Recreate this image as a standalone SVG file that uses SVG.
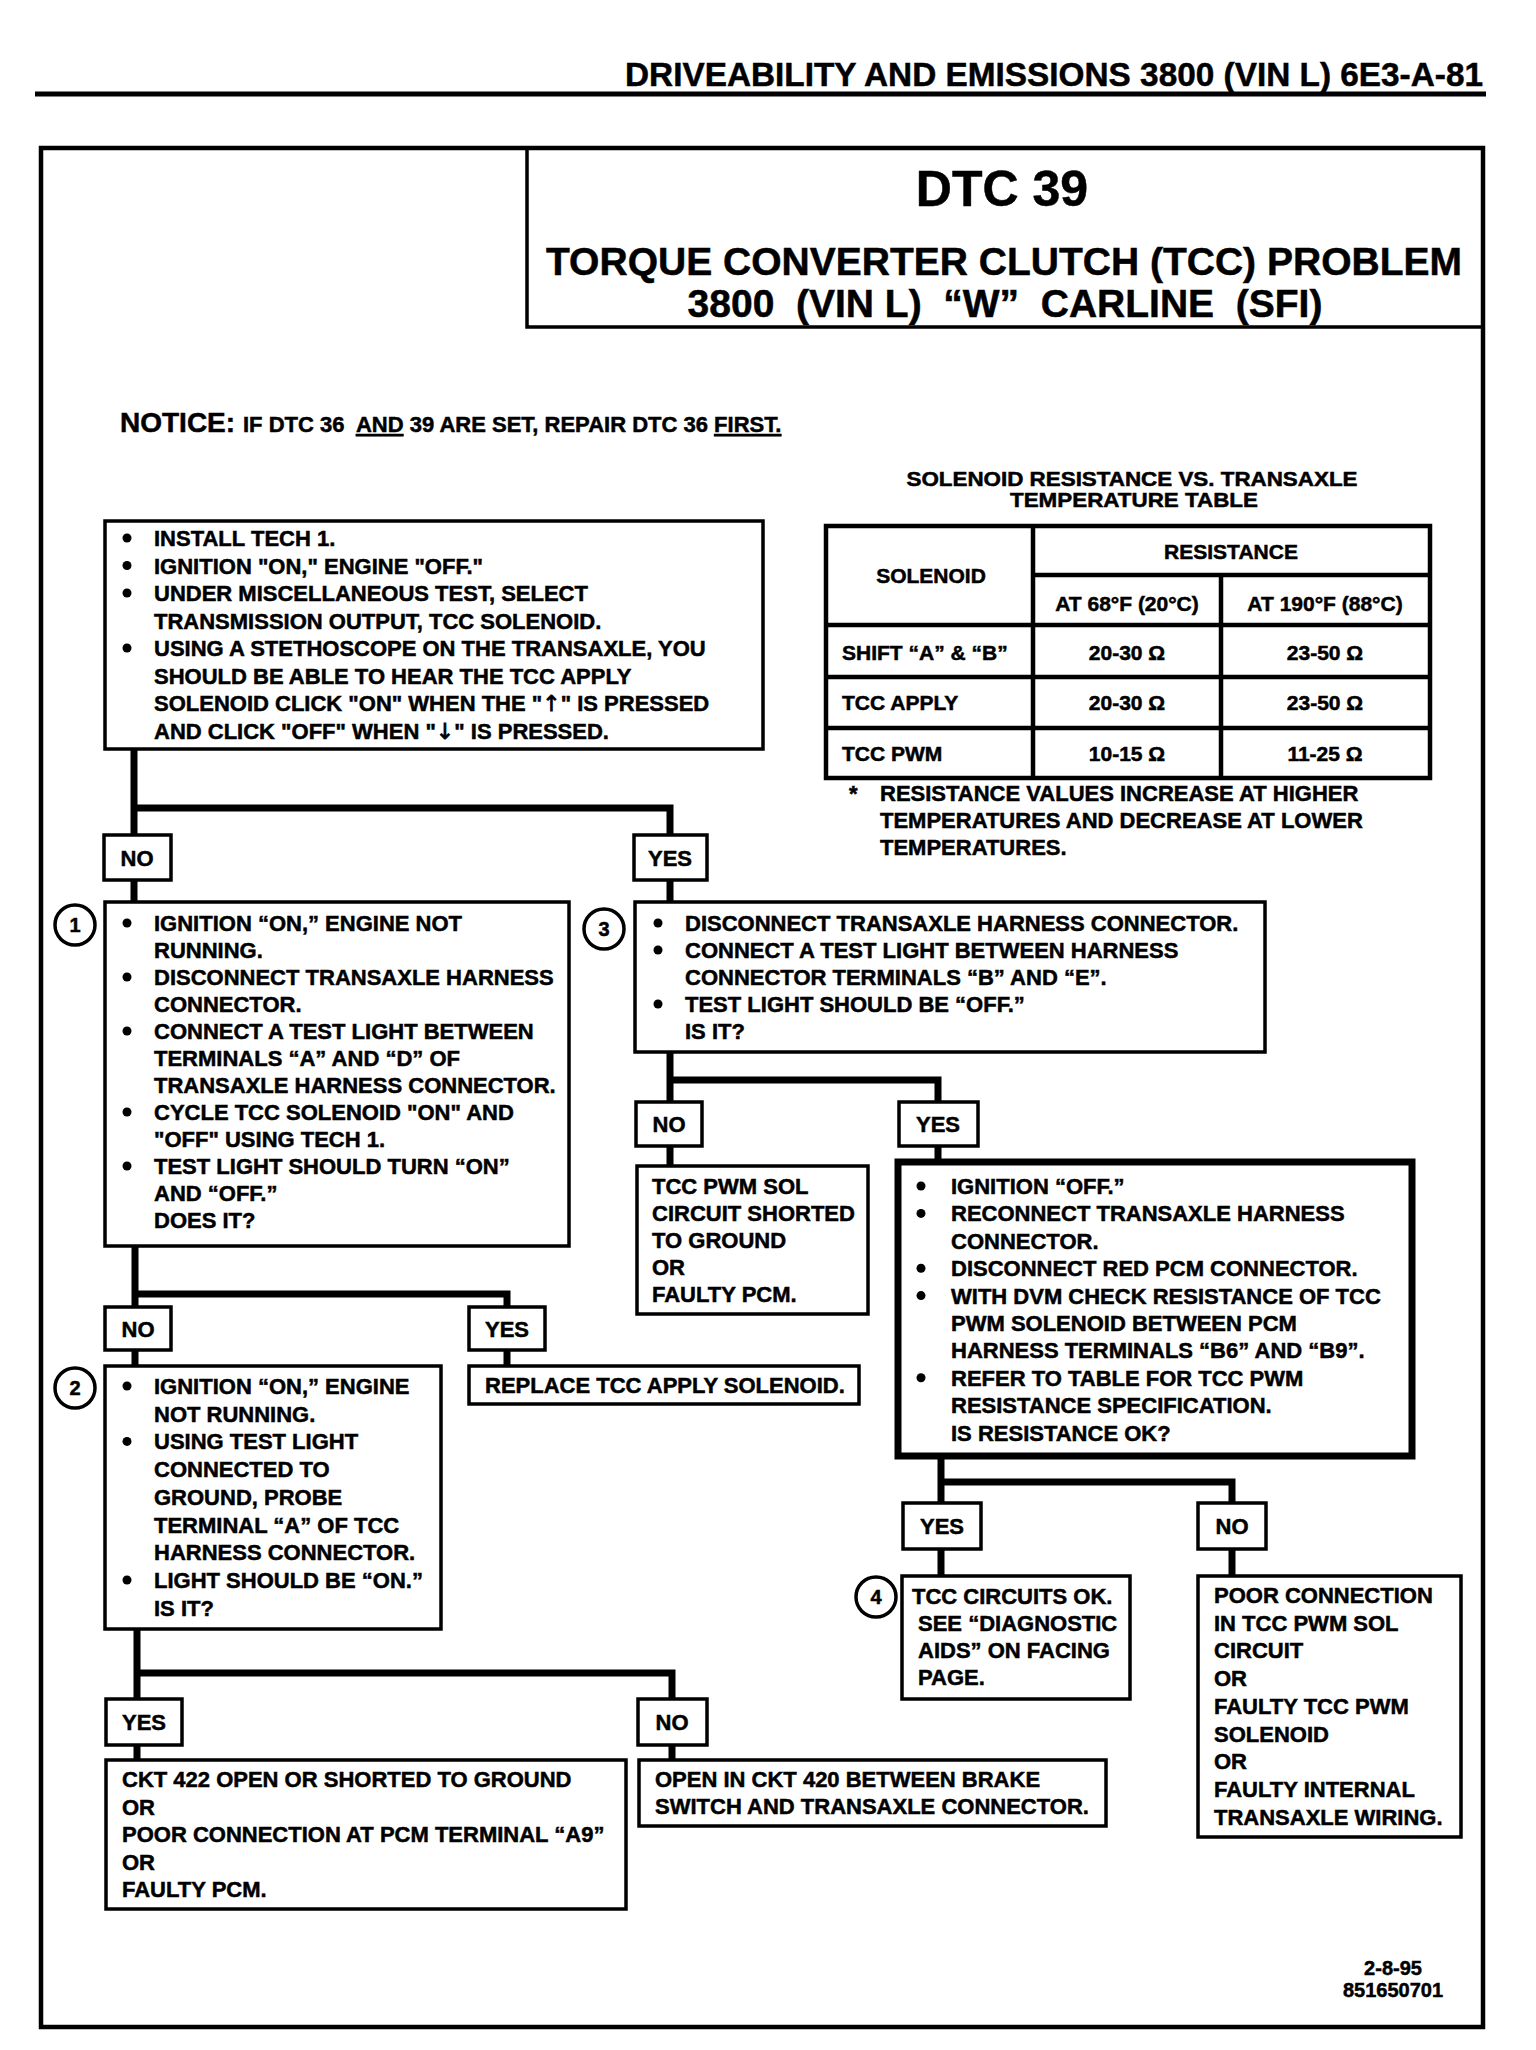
<svg xmlns="http://www.w3.org/2000/svg" width="1536" height="2050" viewBox="0 0 1536 2050">
<defs>
<style>
text{font-family:"Liberation Sans",Arial,Helvetica,sans-serif;font-weight:bold;fill:#000;stroke:#000;stroke-width:0.5;}
.t{font-size:22px;}
.c{text-anchor:middle;}
.arr{font-family:"DejaVu Sans",sans-serif;font-weight:normal;stroke-width:0.8;}
.box{fill:#fff;stroke:#000;stroke-width:3.5;}
.lbl{fill:#fff;stroke:#000;stroke-width:3.5;}
.thick{fill:#fff;stroke:#000;stroke-width:7;}
.conn{fill:none;stroke:#000;stroke-width:7;stroke-linejoin:miter;stroke-linecap:butt;}
.grid{fill:none;stroke:#000;stroke-width:4.5;}
.num{fill:#fff;stroke:#000;stroke-width:3.5;}
.pre{white-space:pre;}
</style>
</defs>
<rect x="0" y="0" width="1536" height="2050" fill="#fff"/>

<g id="page-header">
<text x="625" y="86" font-size="34" textLength="858" lengthAdjust="spacingAndGlyphs">DRIVEABILITY AND EMISSIONS 3800 (VIN L) 6E3-A-81</text>
<line x1="35" y1="94" x2="1486" y2="94" stroke="#000" stroke-width="5"/>
</g>

<g id="frame">
<rect x="41" y="148" width="1442" height="1879" fill="none" stroke="#000" stroke-width="4.5"/>
</g>

<g id="title">
<path d="M527,148 V327 H1483" fill="none" stroke="#000" stroke-width="3.5"/>
<text x="1002" y="206" font-size="50" class="c">DTC 39</text>
<text x="1004" y="275" font-size="39" class="c" textLength="916" lengthAdjust="spacingAndGlyphs">TORQUE CONVERTER CLUTCH (TCC) PROBLEM</text>
<text x="1005" y="317" font-size="39" class="c pre">3800  (VIN L)  “W”  CARLINE  (SFI)</text>
</g>

<g id="notice">
<text x="120" y="432" font-size="28">NOTICE:</text>
<text x="243" y="432" font-size="22" class="pre">IF DTC 36  <tspan text-decoration="underline">AND</tspan> 39 ARE SET, REPAIR DTC 36 <tspan text-decoration="underline">FIRST.</tspan></text>
</g>

<g id="resistance-table">
<text x="1132" y="486" font-size="20" class="c" textLength="451" lengthAdjust="spacingAndGlyphs">SOLENOID RESISTANCE VS. TRANSAXLE</text>
<text x="1134" y="507" font-size="20" class="c" textLength="248" lengthAdjust="spacingAndGlyphs">TEMPERATURE TABLE</text>
<rect x="826" y="526" width="604" height="252" class="grid"/>
<path class="grid" d="M1033,526 V778 M1221,575 V778 M1033,575 H1430 M826,625 H1430 M826,677 H1430 M826,728 H1430"/>
<text x="931" y="583" font-size="21" class="c">SOLENOID</text>
<text x="1231" y="559" font-size="21" class="c">RESISTANCE</text>
<text x="1127" y="611" font-size="21" class="c">AT 68°F (20°C)</text>
<text x="1325" y="611" font-size="21" class="c">AT 190°F (88°C)</text>
<text x="842" y="660" font-size="21">SHIFT “A” &amp; “B”</text>
<text x="1127" y="660" font-size="21" class="c">20-30 Ω</text>
<text x="1325" y="660" font-size="21" class="c">23-50 Ω</text>
<text x="842" y="710" font-size="21">TCC APPLY</text>
<text x="1127" y="710" font-size="21" class="c">20-30 Ω</text>
<text x="1325" y="710" font-size="21" class="c">23-50 Ω</text>
<text x="842" y="761" font-size="21">TCC PWM</text>
<text x="1127" y="761" font-size="21" class="c">10-15 Ω</text>
<text x="1325" y="761" font-size="21" class="c">11-25 Ω</text>
<text x="849" y="801" class="t">*</text>
<text x="880" y="801" class="t">RESISTANCE VALUES INCREASE AT HIGHER</text>
<text x="880" y="828" class="t">TEMPERATURES AND DECREASE AT LOWER</text>
<text x="880" y="855" class="t">TEMPERATURES.</text>
</g>

<g id="connectors">
<path class="conn" d="M134,749 V835 M134,808 H670 V835"/>
<path class="conn" d="M134,880 V902 M670,880 V902"/>
<path class="conn" d="M670,1052 V1102 M670,1080 H938 V1102"/>
<path class="conn" d="M670,1146 V1166 M938,1146 V1162"/>
<path class="conn" d="M941,1456 V1503 M941,1482 H1232 V1503"/>
<path class="conn" d="M941,1549 V1576 M1232,1549 V1576"/>
<path class="conn" d="M135,1246 V1307 M135,1294 H507 V1307"/>
<path class="conn" d="M135,1350 V1366 M507,1350 V1366"/>
<path class="conn" d="M137,1629 V1699 M137,1673 H672 V1699"/>
<path class="conn" d="M137,1745 V1760 M672,1745 V1760"/>
</g>

<g id="step-start">
<rect x="105" y="521" width="658" height="228" class="box"/>
<circle cx="127" cy="538" r="4.5"/><circle cx="127" cy="565.5" r="4.5"/><circle cx="127" cy="593" r="4.5"/><circle cx="127" cy="648" r="4.5"/>
<text x="154" y="546" class="t">INSTALL TECH 1.</text>
<text x="154" y="573.5" class="t">IGNITION "ON," ENGINE "OFF."</text>
<text x="154" y="601" class="t">UNDER MISCELLANEOUS TEST, SELECT</text>
<text x="154" y="628.5" class="t">TRANSMISSION OUTPUT, TCC SOLENOID.</text>
<text x="154" y="656" class="t">USING A STETHOSCOPE ON THE TRANSAXLE, YOU</text>
<text x="154" y="683.5" class="t">SHOULD BE ABLE TO HEAR THE TCC APPLY</text>
<text x="154" y="711" class="t">SOLENOID CLICK "ON" WHEN THE "<tspan class="arr">↑</tspan>" IS PRESSED</text>
<text x="154" y="738.5" class="t">AND CLICK "OFF" WHEN "<tspan class="arr">↓</tspan>" IS PRESSED.</text>
</g>

<g id="label-start-no"><rect x="104" y="835" width="67" height="45" class="lbl"/><text x="137" y="866" class="t c">NO</text></g>
<g id="label-start-yes"><rect x="634" y="835" width="73" height="45" class="lbl"/><text x="670" y="866" class="t c">YES</text></g>

<g id="step-1">
<circle cx="75" cy="925" r="20" class="num"/><text x="75" y="932" font-size="20" class="c">1</text>
<rect x="105" y="902" width="464" height="344" class="box"/>
<circle cx="127" cy="923" r="4.5"/><circle cx="127" cy="977" r="4.5"/><circle cx="127" cy="1031" r="4.5"/><circle cx="127" cy="1112" r="4.5"/><circle cx="127" cy="1166" r="4.5"/>
<text x="154" y="931" class="t">IGNITION “ON,” ENGINE NOT</text>
<text x="154" y="958" class="t">RUNNING.</text>
<text x="154" y="985" class="t">DISCONNECT TRANSAXLE HARNESS</text>
<text x="154" y="1012" class="t">CONNECTOR.</text>
<text x="154" y="1039" class="t">CONNECT A TEST LIGHT BETWEEN</text>
<text x="154" y="1066" class="t">TERMINALS “A” AND “D” OF</text>
<text x="154" y="1093" class="t">TRANSAXLE HARNESS CONNECTOR.</text>
<text x="154" y="1120" class="t">CYCLE TCC SOLENOID "ON" AND</text>
<text x="154" y="1147" class="t">"OFF" USING TECH 1.</text>
<text x="154" y="1174" class="t">TEST LIGHT SHOULD TURN “ON”</text>
<text x="154" y="1201" class="t">AND “OFF.”</text>
<text x="154" y="1228" class="t">DOES IT?</text>
</g>

<g id="step-3">
<circle cx="604" cy="929" r="20" class="num"/><text x="604" y="936" font-size="20" class="c">3</text>
<rect x="635" y="902" width="630" height="150" class="box"/>
<circle cx="658" cy="923" r="4.5"/><circle cx="658" cy="950" r="4.5"/><circle cx="658" cy="1004" r="4.5"/>
<text x="685" y="931" class="t">DISCONNECT TRANSAXLE HARNESS CONNECTOR.</text>
<text x="685" y="958" class="t">CONNECT A TEST LIGHT BETWEEN HARNESS</text>
<text x="685" y="985" class="t">CONNECTOR TERMINALS “B” AND “E”.</text>
<text x="685" y="1012" class="t">TEST LIGHT SHOULD BE “OFF.”</text>
<text x="685" y="1039" class="t">IS IT?</text>
</g>

<g id="label-3-no"><rect x="636" y="1102" width="66" height="44" class="lbl"/><text x="669" y="1132" class="t c">NO</text></g>
<g id="label-3-yes"><rect x="899" y="1102" width="79" height="44" class="lbl"/><text x="938" y="1132" class="t c">YES</text></g>

<g id="result-pwm-shorted">
<rect x="637" y="1166" width="231" height="148" class="box"/>
<text x="652" y="1194" class="t">TCC PWM SOL</text>
<text x="652" y="1221" class="t">CIRCUIT SHORTED</text>
<text x="652" y="1248" class="t">TO GROUND</text>
<text x="652" y="1275" class="t">OR</text>
<text x="652" y="1302" class="t">FAULTY PCM.</text>
</g>

<g id="step-dvm">
<rect x="898" y="1162" width="514" height="294" class="thick"/>
<circle cx="921" cy="1186" r="4.5"/><circle cx="921" cy="1213.4" r="4.5"/><circle cx="921" cy="1268.2" r="4.5"/><circle cx="921" cy="1295.6" r="4.5"/><circle cx="921" cy="1377.8" r="4.5"/>
<text x="951" y="1194" class="t">IGNITION “OFF.”</text>
<text x="951" y="1221.4" class="t">RECONNECT TRANSAXLE HARNESS</text>
<text x="951" y="1248.8" class="t">CONNECTOR.</text>
<text x="951" y="1276.2" class="t">DISCONNECT RED PCM CONNECTOR.</text>
<text x="951" y="1303.6" class="t">WITH DVM CHECK RESISTANCE OF TCC</text>
<text x="951" y="1331" class="t">PWM SOLENOID BETWEEN PCM</text>
<text x="951" y="1358.4" class="t">HARNESS TERMINALS “B6” AND “B9”.</text>
<text x="951" y="1385.8" class="t">REFER TO TABLE FOR TCC PWM</text>
<text x="951" y="1413.2" class="t">RESISTANCE SPECIFICATION.</text>
<text x="951" y="1440.6" class="t">IS RESISTANCE OK?</text>
</g>

<g id="label-dvm-yes"><rect x="903" y="1503" width="78" height="46" class="lbl"/><text x="942" y="1534" class="t c">YES</text></g>
<g id="label-dvm-no"><rect x="1198" y="1503" width="68" height="46" class="lbl"/><text x="1232" y="1534" class="t c">NO</text></g>

<g id="result-4">
<circle cx="876" cy="1597" r="20" class="num"/><text x="876" y="1604" font-size="20" class="c">4</text>
<rect x="902" y="1576" width="228" height="123" class="box"/>
<text x="912" y="1604" class="t">TCC CIRCUITS OK.</text>
<text x="918" y="1631" class="t">SEE “DIAGNOSTIC</text>
<text x="918" y="1658" class="t">AIDS” ON FACING</text>
<text x="918" y="1685" class="t">PAGE.</text>
</g>

<g id="result-poor-connection">
<rect x="1198" y="1576" width="263" height="261" class="box"/>
<text x="1214" y="1603" class="t">POOR CONNECTION</text>
<text x="1214" y="1630.7" class="t">IN TCC PWM SOL</text>
<text x="1214" y="1658.4" class="t">CIRCUIT</text>
<text x="1214" y="1686.1" class="t">OR</text>
<text x="1214" y="1713.8" class="t">FAULTY TCC PWM</text>
<text x="1214" y="1741.5" class="t">SOLENOID</text>
<text x="1214" y="1769.2" class="t">OR</text>
<text x="1214" y="1796.9" class="t">FAULTY INTERNAL</text>
<text x="1214" y="1824.6" class="t">TRANSAXLE WIRING.</text>
</g>

<g id="label-1-no"><rect x="105" y="1307" width="66" height="43" class="lbl"/><text x="138" y="1337" class="t c">NO</text></g>
<g id="label-1-yes"><rect x="469" y="1307" width="76" height="43" class="lbl"/><text x="507" y="1337" class="t c">YES</text></g>

<g id="result-replace">
<rect x="469" y="1366" width="390" height="38" class="box"/>
<text x="485" y="1393" class="t">REPLACE TCC APPLY SOLENOID.</text>
</g>

<g id="step-2">
<circle cx="75" cy="1388" r="20" class="num"/><text x="75" y="1395" font-size="20" class="c">2</text>
<rect x="105" y="1366" width="336" height="263" class="box"/>
<circle cx="127" cy="1386" r="4.5"/><circle cx="127" cy="1441.4" r="4.5"/><circle cx="127" cy="1580" r="4.5"/>
<text x="154" y="1394" class="t">IGNITION “ON,” ENGINE</text>
<text x="154" y="1421.7" class="t">NOT RUNNING.</text>
<text x="154" y="1449.4" class="t">USING TEST LIGHT</text>
<text x="154" y="1477.1" class="t">CONNECTED TO</text>
<text x="154" y="1504.8" class="t">GROUND, PROBE</text>
<text x="154" y="1532.5" class="t">TERMINAL “A” OF TCC</text>
<text x="154" y="1560.2" class="t">HARNESS CONNECTOR.</text>
<text x="154" y="1587.9" class="t">LIGHT SHOULD BE “ON.”</text>
<text x="154" y="1615.6" class="t">IS IT?</text>
</g>

<g id="label-2-yes"><rect x="106" y="1699" width="76" height="46" class="lbl"/><text x="144" y="1730" class="t c">YES</text></g>
<g id="label-2-no"><rect x="638" y="1699" width="69" height="46" class="lbl"/><text x="672" y="1730" class="t c">NO</text></g>

<g id="result-ckt422">
<rect x="106" y="1760" width="520" height="149" class="box"/>
<text x="122" y="1787" class="t">CKT 422 OPEN OR SHORTED TO GROUND</text>
<text x="122" y="1814.5" class="t">OR</text>
<text x="122" y="1842" class="t">POOR CONNECTION AT PCM TERMINAL “A9”</text>
<text x="122" y="1869.5" class="t">OR</text>
<text x="122" y="1897" class="t">FAULTY PCM.</text>
</g>

<g id="result-ckt420">
<rect x="639" y="1760" width="467" height="66" class="box"/>
<text x="655" y="1787" class="t">OPEN IN CKT 420 BETWEEN BRAKE</text>
<text x="655" y="1814" class="t">SWITCH AND TRANSAXLE CONNECTOR.</text>
</g>

<g id="footer">
<text x="1393" y="1975" font-size="20" class="c">2-8-95</text>
<text x="1393" y="1997" font-size="20" class="c">851650701</text>
</g>
</svg>
